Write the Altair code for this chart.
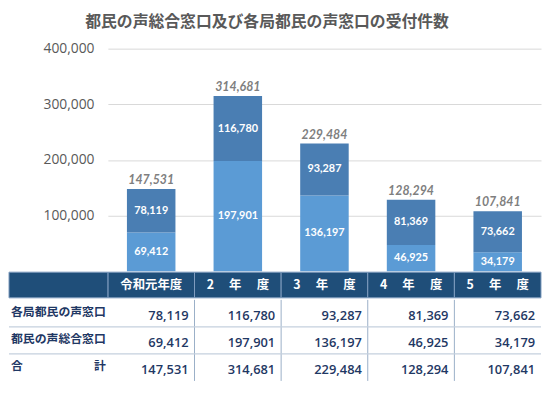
import altair as alt
import pandas as pd

# ---- data ----
years = ["令和元年度", "2年度", "3年度", "4年度", "5年度"]
header_labels = ["令和元年度", "2　 年　 度", "3　 年　 度", "4　 年　 度", "5　 年　 度"]
kakkyoku = [78119, 116780, 93287, 81369, 73662]      # 各局都民の声窓口
sogo = [69412, 197901, 136197, 46925, 34179]         # 都民の声総合窓口
totals = [147531, 314681, 229484, 128294, 107841]    # 合計
series = ["都民の声総合窓口", "各局都民の声窓口"]
row_keys = ["各局都民の声窓口", "都民の声総合窓口", "合計"]
row_disp = ["各局都民の声窓口", "都民の声総合窓口", "合　　　　　　計"]
y_ticks = [100000, 200000, 300000, 400000]

C_LIGHT = "#5B9BD5"
C_DARK = "#4A7EB3"
C_HEAD = "#1F4E79"
C_TXT = "#1F3864"
JP = "Noto Sans CJK JP"

# ---- long tables ----
bars = pd.DataFrame(
    [{"year": y, "series": series[0], "ord": 0, "value": v} for y, v in zip(years, sogo)]
    + [{"year": y, "series": series[1], "ord": 1, "value": v} for y, v in zip(years, kakkyoku)]
)
tot = pd.DataFrame({"year": years, "total": totals})

W = 438
H_PLOT = 225
H_HEAD = 26
H_ROWS = 82

xb = alt.X("year:N", sort=years, axis=None,
           scale=alt.Scale(domain=years, paddingInner=0.44, paddingOuter=0.22))

base = alt.Chart(bars).transform_stack(
    stack="value", groupby=["year"], sort=[alt.SortField("ord")], as_=["y0", "y1"]
).transform_calculate(mid="(datum.y0 + datum.y1) / 2")

ys = alt.Scale(domain=[0, 400000], nice=False)

bar_layer = base.mark_bar().encode(
    x=xb,
    y=alt.Y("y0:Q", scale=ys, title=None,
            axis=alt.Axis(values=y_ticks, labelExpr="format(datum.value, ',d')",
                          grid=True, gridColor="#D9D9D9",
                          domain=False, ticks=False, labelPadding=14, labelFontSize=14,
                          labelFont="Open Sans", labelColor="#595959")),
    y2="y1:Q",
    color=alt.Color("series:N", scale=alt.Scale(domain=series, range=[C_LIGHT, C_DARK]), legend=None),
)
seg_text = base.mark_text(color="white", font="Lato", fontWeight="bold", fontSize=11).encode(
    x=xb, y=alt.Y("mid:Q", scale=ys), text=alt.Text("value:Q", format=",")
)
tot_text = alt.Chart(tot).mark_text(color="#7F7F7F", font="Lato", fontWeight="bold",
                                    fontStyle="italic", fontSize=12.5, dy=-9).encode(
    x=xb, y=alt.Y("total:Q", scale=ys), text=alt.Text("total:Q", format=",")
)
top = alt.layer(bar_layer, seg_text, tot_text).properties(width=W, height=H_PLOT)

# ---- table header ----
xt = alt.X("year:N", sort=years, axis=None,
           scale=alt.Scale(domain=years, paddingInner=0, paddingOuter=0))
head_df = pd.DataFrame({"year": years, "label": header_labels})
head_rect = alt.Chart(head_df).mark_rect(fill=C_HEAD, stroke="#7F9DBF", strokeWidth=1).encode(
    x=xt, y=alt.value(0), y2=alt.value(H_HEAD)
)
head_corner = alt.Chart(head_df.head(1)).mark_rect(fill=C_HEAD, stroke="#7F9DBF", strokeWidth=1).encode(
    x=alt.value(-100), x2=alt.value(0), y=alt.value(0), y2=alt.value(H_HEAD)
)
head_text = alt.Chart(head_df).mark_text(color="white", font=JP, fontWeight="bold", fontSize=12.5).encode(
    x=xt, y=alt.value(H_HEAD / 2 + 0.5), text="label:N"
)
header = alt.layer(head_rect, head_corner, head_text).properties(width=W, height=H_HEAD)

# ---- table rows ----
cells = pd.DataFrame(
    [{"row": row_keys[0], "year": y, "v": v} for y, v in zip(years, kakkyoku)]
    + [{"row": row_keys[1], "year": y, "v": v} for y, v in zip(years, sogo)]
    + [{"row": row_keys[2], "year": y, "v": v} for y, v in zip(years, totals)]
)
rows_df = pd.DataFrame({"row": row_keys, "disp": row_disp})
yr = alt.Y("row:N", sort=row_keys, axis=None,
           scale=alt.Scale(domain=row_keys, paddingInner=0, paddingOuter=0))

vlines = alt.Chart(pd.DataFrame({"year": years[1:]})).mark_rule(color="#9AAFC7", strokeWidth=1).encode(
    x=alt.X("year:N", sort=years, axis=None, bandPosition=0,
            scale=alt.Scale(domain=years, paddingInner=0, paddingOuter=0)),
    y=alt.value(0), y2=alt.value(H_ROWS)
)
hlines = alt.Chart(rows_df.iloc[1:]).mark_rule(color="#C5D0DE", strokeWidth=1.2).encode(
    y=alt.Y("row:N", sort=row_keys, axis=None, bandPosition=0,
            scale=alt.Scale(domain=row_keys, paddingInner=0, paddingOuter=0)),
    x=alt.value(-100), x2=alt.value(W)
)
val_text = alt.Chart(cells).mark_text(color=C_TXT, font="Open Sans", fontWeight=600, fontSize=13,
                                      align="right", dx=W / 5 / 2 - 6, dy=3).encode(
    x=xt, y=yr, text=alt.Text("v:Q", format=",")
)
lab_text = alt.Chart(rows_df).mark_text(color=C_TXT, font=JP, fontWeight="bold", fontSize=12,
                                        align="left", dy=-1).encode(
    x=alt.value(-98), y=yr, text="disp:N"
)
rows = alt.layer(vlines, hlines, val_text, lab_text).properties(width=W, height=H_ROWS)

chart = alt.vconcat(top, header, rows, spacing=0).resolve_scale(
    x="independent", y="independent", color="independent"
).properties(
    title=alt.TitleParams(
        "都民の声総合窓口及び各局都民の声窓口の受付件数",
        font=JP, fontSize=16, fontWeight="bold", color="#595959",
        anchor="middle", dx=-8, offset=12,
    ),
    padding={"left": 0, "right": 0, "top": 4, "bottom": 0},
).configure_view(stroke=None)

chart.save("out.html", embed_options={"renderer": "svg", "actions": False})
